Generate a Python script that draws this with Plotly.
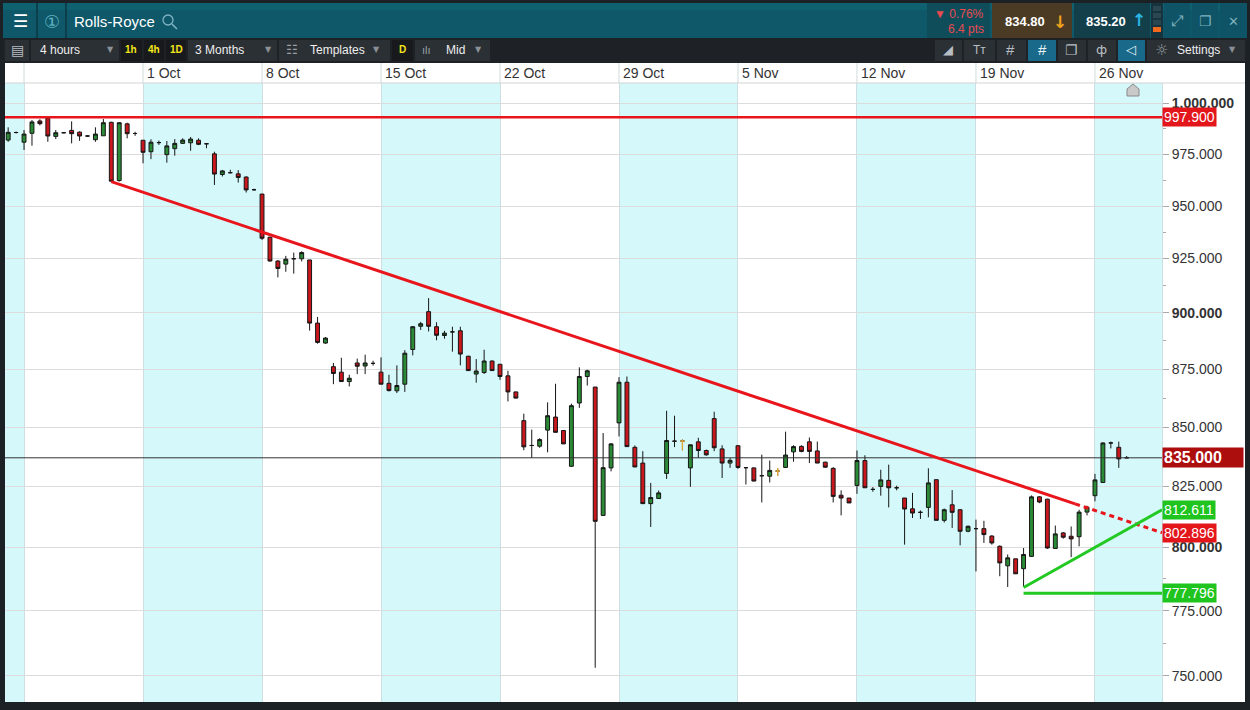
import math
import plotly.graph_objects as go

# ---- data: 4 hour candles, one slot per candle (15 slots per trading week) ----
FIRST_SLOT = -2
OPEN = [986.1, 990.0, 985.0, 989.6, 996.0, 997.4, 988.0, 989.9, 991.1, 990.2,
        988.2, 986.3, 988.3, 995.3, 965.4, 994.5, 989.5, 986.0, 980.1, 984.8,
        978.6, 981.7, 984.4, 984.7, 986.0, 984.2, 979.0, 968.5, 969.4, 968.8,
        967.2, 960.8, 958.6, 937.2, 925.6, 924.1, 926.7, 926.7, 926.1, 896.0,
        886.7, 875.8, 873.3, 869.0, 877.5, 876.1, 877.3, 873.3, 868.2, 864.8,
        867.8, 883.7, 894.5, 901.4, 894.3, 890.2, 891.9, 892.4, 880.6, 872.4,
        873.1, 878.4, 876.9, 871.6, 864.3, 851.4, 840.4, 840.1, 847.2, 853.0,
        847.0, 831.3, 859.3, 871.3, 866.5, 810.2, 830.6, 850.4, 868.7, 839.6,
        832.7, 815.2, 817.4, 828.2, 842.3, 842.3, 830.6, 842.0, 838.2, 852.3,
        838.9, 832.7, 840.3, 830.7, 830.6, 827.2, 827.0, 829.2, 830.8, 837.6,
        840.0, 842.0, 838.0, 833.1, 830.4, 818.8, 817.6, 823.0, 833.8, 821.3,
        822.6, 825.2, 822.0, 817.6, 813.0, 811.5, 813.6, 825.5, 808.1, 814.7,
        812.6, 803.5, 804.6, 804.6, 801.5, 797.2, 789.1, 792.0, 787.9, 793.0,
        818.1, 817.1, 796.3, 802.8, 801.4, 801.2, 811.6, 818.6, 824.3, 841.5,
        839.6, 835.0]
HIGH = [992.7, 990.5, 991.3, 996.5, 996.9, 997.9, 991.3, 990.2, 995.8, 990.6,
        988.6, 992.7, 997.0, 995.6, 995.3, 995.1, 990.4, 986.1, 986.5, 985.8,
        985.6, 986.6, 987.0, 987.7, 987.0, 984.3, 980.1, 970.8, 970.9, 970.7,
        967.5, 961.3, 958.7, 937.5, 926.0, 928.1, 929.7, 930.3, 926.1, 898.9,
        889.5, 877.5, 879.9, 872.1, 879.5, 881.3, 878.5, 880.1, 872.1, 876.4,
        883.4, 894.6, 896.6, 907.8, 896.4, 892.4, 894.3, 894.3, 880.8, 879.3,
        883.6, 878.6, 876.9, 873.9, 864.4, 854.5, 847.4, 843.6, 859.6, 868.0,
        847.0, 859.0, 875.5, 874.4, 866.5, 845.9, 841.5, 871.0, 871.3, 840.4,
        837.9, 824.1, 820.8, 855.8, 853.6, 843.0, 840.8, 843.8, 838.6, 855.4,
        840.5, 834.9, 840.4, 830.7, 830.8, 836.4, 833.8, 830.5, 846.5, 840.5,
        840.5, 843.9, 842.1, 833.3, 830.9, 820.9, 817.6, 838.2, 836.1, 822.3,
        829.8, 832.0, 822.9, 817.6, 819.8, 812.3, 830.4, 825.5, 813.1, 821.0,
        812.9, 805.9, 808.4, 807.9, 801.8, 797.6, 793.8, 792.0, 796.5, 818.7,
        818.4, 817.3, 805.9, 803.2, 805.5, 812.6, 814.3, 828.0, 841.8, 842.1,
        842.1, 835.8]
LOW = [985.2, 989.5, 981.0, 983.2, 993.7, 985.2, 986.6, 989.6, 984.4, 985.7,
       987.8, 985.2, 988.3, 964.9, 964.9, 987.0, 988.3, 974.2, 976.3, 983.6,
       974.5, 978.1, 984.1, 980.6, 983.5, 981.9, 963.2, 967.5, 969.1, 964.4,
       959.4, 960.3, 935.9, 925.4, 917.7, 920.4, 919.5, 925.4, 892.5, 886.4,
       886.3, 867.8, 869.0, 866.8, 872.4, 872.4, 876.3, 867.8, 864.5, 863.8,
       864.3, 881.0, 892.8, 892.1, 888.0, 888.7, 882.7, 876.4, 873.9, 868.5,
       872.5, 874.0, 869.8, 860.0, 861.4, 838.3, 835.0, 839.4, 837.4, 846.2,
       841.1, 831.0, 857.1, 867.2, 748.1, 810.2, 829.1, 844.4, 839.9, 831.0,
       815.2, 805.3, 817.2, 825.8, 839.7, 838.3, 822.4, 835.0, 835.9, 837.9,
       826.2, 830.6, 830.2, 823.4, 824.8, 815.7, 824.3, 827.2, 830.8, 833.3,
       837.4, 832.7, 832.7, 830.6, 815.7, 810.2, 815.5, 819.4, 822.0, 820.3,
       818.6, 813.6, 820.9, 797.9, 809.1, 808.7, 809.4, 808.1, 807.2, 804.9,
       797.6, 803.1, 786.8, 798.6, 797.9, 784.8, 780.4, 785.8, 780.6, 792.8,
       815.4, 796.1, 796.3, 800.4, 792.7, 797.2, 810.2, 816.2, 824.3, 839.1,
       830.6, 835.0]
CLOSE = [990.1, 990.0, 989.2, 995.5, 994.6, 988.2, 989.9, 989.9, 989.4, 988.2,
         988.2, 989.2, 995.1, 965.1, 995.1, 989.4, 989.5, 979.8, 985.0, 984.8,
         983.1, 984.4, 986.1, 986.6, 983.9, 984.2, 968.7, 970.3, 969.4, 967.0,
         960.7, 960.8, 936.7, 925.6, 922.0, 926.5, 926.7, 929.7, 896.0, 887.0,
         889.0, 872.7, 869.0, 870.5, 876.0, 877.5, 877.3, 867.8, 864.9, 867.2,
         882.0, 894.3, 895.7, 894.5, 890.3, 891.3, 891.9, 881.6, 874.0, 873.8,
         878.4, 874.0, 871.3, 864.3, 861.5, 839.8, 840.4, 843.0, 853.6, 846.2,
         841.1, 858.1, 871.3, 873.9, 807.7, 830.7, 841.1, 868.7, 839.9, 831.0,
         815.2, 817.8, 819.8, 842.6, 842.3, 842.3, 840.7, 838.2, 836.3, 839.4,
         832.7, 833.9, 830.8, 830.7, 824.9, 827.2, 829.5, 829.2, 836.2, 839.9,
         837.8, 837.8, 832.7, 830.9, 818.3, 817.6, 815.5, 833.8, 822.0, 821.3,
         825.4, 822.0, 822.0, 812.9, 811.2, 811.5, 824.1, 808.1, 812.6, 811.5,
         803.5, 805.6, 804.6, 802.1, 798.6, 790.3, 792.4, 785.8, 793.8, 818.1,
         815.9, 796.5, 802.4, 801.0, 800.3, 811.6, 813.7, 825.4, 841.5, 841.5,
         834.5, 835.0]
FLAT_ORANGE = [83, 95]  # unchanged candles drawn as orange crosses

WEEK_SLOTS = [0, 15, 30, 45, 60, 75, 90, 105, 120, 135]
DATE_LABELS = ["1 Oct", "8 Oct", "15 Oct", "22 Oct", "29 Oct",
               "5 Nov", "12 Nov", "19 Nov", "26 Nov"]

# drawn lines
RESISTANCE = 997.9
LAST_PRICE = 835.0
SUPPORT = 777.796
SUPPORT_START = 126
TREND_DOWN_SLOTS = [11, 132.5, 143.45]
TREND_DOWN_PRICES = [964.9, 815.1, 802.896]
TREND_UP_SLOTS = [126, 143.45]
TREND_UP_PRICES = [780.2, 812.611]

# price axis grid (label text as shown on the platform)
TICK_VALUES = [1005.4, 978.9, 952.6, 926.9, 900.9, 874.7, 848.4, 822.6, 796.9, 770.7, 744.9]
TICK_TEXT = ["<b>1.000.000</b>", "975.000", "950.000", "925.000", "<b>900.000</b>",
             "875.000", "850.000", "825.000", "<b>800.000</b>", "775.000", "750.000"]

X_MIN, X_MAX = -2.4, 143.45
Y_MIN, Y_MAX = 734.8, 1016.0

GREEN = "#2a8a35"
RED = "#c8171d"
LINE_RED = "#e8161c"
LINE_GREEN = "#22c922"
FONT = "Liberation Sans, Arial, sans-serif"

# pixel -> paper helpers for the surrounding platform chrome
L, R, T, B = 5, 1162, 83, 702


def px(x):
    return (x - L) / (R - L)


def py(y):
    return (B - y) / (B - T)


shapes = []
annotations = []


def rect(x0, y0, x1, y1, color, layer="below"):
    shapes.append(dict(type="rect", xref="paper", yref="paper",
                       x0=px(x0), x1=px(x1), y0=py(y1), y1=py(y0),
                       fillcolor=color, line=dict(width=0), layer=layer))


def label(x, y, text, color="#e8e8e8", size=12, anchor="left", bold=False, family=FONT):
    if bold:
        text = "<b>" + text + "</b>"
    annotations.append(dict(xref="paper", yref="paper", x=px(x), y=py(y),
                            xanchor=anchor, yanchor="middle", text=text,
                            showarrow=False, font=dict(color=color, size=size, family=family)))


def price_tag(price, text, bg, size=14, width=None):
    a = dict(xref="paper", yref="y", x=1, y=math.log10(price), xanchor="left",
             yanchor="middle", text=text, showarrow=False, bgcolor=bg, borderpad=1,
             font=dict(color="white", size=size, family=FONT))
    if width:
        a.update(width=width, align="left")
    annotations.append(a)


slots = [FIRST_SLOT + i for i in range(len(OPEN))]

fig = go.Figure()

fig.add_trace(go.Candlestick(
    x=slots, open=OPEN, high=HIGH, low=LOW, close=CLOSE,
    increasing=dict(line=dict(color="#151515", width=1), fillcolor=GREEN),
    decreasing=dict(line=dict(color="#151515", width=1), fillcolor=RED),
    hoverinfo="skip", showlegend=False))

# orange crosses
cx, cy = [], []
for s in FLAT_ORANGE:
    i = s - FIRST_SLOT
    cx += [s - 0.3, s + 0.3, None, s, s, None]
    cy += [OPEN[i], OPEN[i], None, HIGH[i], LOW[i], None]
fig.add_trace(go.Scatter(x=cx, y=cy, mode="lines", line=dict(color="#e0a83a", width=1.3),
                         hoverinfo="skip", showlegend=False))

# current price line
fig.add_trace(go.Scatter(x=[X_MIN, X_MAX], y=[LAST_PRICE, LAST_PRICE], mode="lines",
                         line=dict(color="#333333", width=1), hoverinfo="skip", showlegend=False))
# resistance
fig.add_trace(go.Scatter(x=[X_MIN, X_MAX], y=[RESISTANCE, RESISTANCE], mode="lines",
                         line=dict(color=LINE_RED, width=2.5), hoverinfo="skip", showlegend=False))
# falling trend line: solid part then projection
fig.add_trace(go.Scatter(x=TREND_DOWN_SLOTS[:2], y=TREND_DOWN_PRICES[:2], mode="lines",
                         line=dict(color=LINE_RED, width=3), hoverinfo="skip", showlegend=False))
fig.add_trace(go.Scatter(x=TREND_DOWN_SLOTS[1:], y=TREND_DOWN_PRICES[1:], mode="lines",
                         line=dict(color=LINE_RED, width=3, dash="5px,4px"),
                         hoverinfo="skip", showlegend=False))
# rising support line and horizontal support
fig.add_trace(go.Scatter(x=TREND_UP_SLOTS, y=TREND_UP_PRICES, mode="lines",
                         line=dict(color=LINE_GREEN, width=3), hoverinfo="skip", showlegend=False))
fig.add_trace(go.Scatter(x=[SUPPORT_START, X_MAX], y=[SUPPORT, SUPPORT], mode="lines",
                         line=dict(color=LINE_GREEN, width=3), hoverinfo="skip", showlegend=False))

# alternating week shading
bands = [(X_MIN, WEEK_SLOTS[0])]
for k in range(1, len(WEEK_SLOTS), 2):
    end = WEEK_SLOTS[k + 1] if k + 1 < len(WEEK_SLOTS) else X_MAX
    bands.append((WEEK_SLOTS[k], end))
for a, b in bands:
    shapes.append(dict(type="rect", xref="x", yref="paper", x0=a, x1=b, y0=0, y1=1,
                       fillcolor="#d5f8fa", line=dict(width=0), layer="below"))

# ---- platform chrome ----
rect(3, 3, 1247, 38, "#0e5869")
rect(3, 3, 1247, 10, "#10616f")
rect(36, 3, 38, 38, "#0a3f4b")
rect(65, 3, 67, 38, "#0a3f4b")
label(20, 21, "☰", "#ffffff", 17, "center")
label(52, 21, "①", "#5fb0c0", 18, "center", family="DejaVu Sans")
label(72, 21, "Rolls-Royce", "#ffffff", 15)
shapes.append(dict(type="circle", xref="paper", yref="paper", x0=px(163), x1=px(173),
                   y0=py(25), y1=py(15), line=dict(color="#7fb4c2", width=1.3)))
shapes.append(dict(type="line", xref="paper", yref="paper", x0=px(172), x1=px(177),
                   y0=py(24), y1=py(29), line=dict(color="#7fb4c2", width=1.5)))

rect(927, 3, 990, 38, "#0f4d5b")
label(986, 14, "▼ 0.76%", "#e84a4f", 12, "right")
label(986, 29, "6.4 pts", "#e84a4f", 12, "right")
rect(992, 3, 1072, 38, "#4c3b24")
label(1025, 21, "834.80", "#ffffff", 13, "center", bold=True)
label(1060, 22, "↓", "#f2a31d", 17, "center", bold=True, family="DejaVu Sans")
rect(1074, 3, 1150, 38, "#133f4b")
label(1106, 21, "835.20", "#ffffff", 13, "center", bold=True)
label(1139, 20, "↑", "#2cb6e4", 17, "center", bold=True, family="DejaVu Sans")
rect(1151, 3, 1163, 38, "#16343d")
for k in range(4):
    rect(1153, 6 + 7 * k, 1161, 11 + 7 * k, "#f36a1f" if k == 3 else "#2c4651")
rect(1164, 3, 1190, 38, "#0e5466")
rect(1192, 3, 1218, 38, "#0e5466")
rect(1220, 3, 1247, 38, "#0e5466")
label(1177, 21, "⤢", "#7fb0bd", 15, "center", family="DejaVu Sans")
label(1205, 21, "❐", "#7fb0bd", 14, "center", family="DejaVu Sans")
label(1233, 21, "✕", "#7fb0bd", 13, "center", family="DejaVu Sans")

# toolbar
rect(3, 39, 1247, 62, "#1e2226")
for a, b in [(5, 29), (31, 119), (188, 277), (279, 390), (415, 490),
             (935, 962), (964, 995), (997, 1026), (1058, 1086), (1088, 1116), (1147, 1245)]:
    rect(a, 40, b, 61, "#2b3035")
for a, b in [(121, 142), (144, 164), (166, 186), (392, 413)]:
    rect(a, 40, b, 61, "#17191c")
for a, b in [(1028, 1056), (1118, 1145)]:
    rect(a, 40, b, 61, "#19698a")
label(17, 50, "▤", "#b8bec4", 14, "center", family="DejaVu Sans")
label(38, 50, "4 hours", "#eeeeee", 12)
label(110, 50, "▼", "#8a9096", 8, "center", family="DejaVu Sans")
label(131, 50, "1h", "#f3e61a", 10, "center", bold=True)
label(154, 50, "4h", "#f3e61a", 10, "center", bold=True)
label(176, 50, "1D", "#f3e61a", 10, "center", bold=True)
label(193, 50, "3 Months", "#eeeeee", 12)
label(268, 50, "▼", "#8a9096", 8, "center", family="DejaVu Sans")
label(292, 50, "☷", "#9aa0a6", 13, "center", family="DejaVu Sans")
label(308, 50, "Templates", "#eeeeee", 12)
label(376, 50, "▼", "#8a9096", 8, "center", family="DejaVu Sans")
label(402, 50, "D", "#f3e61a", 10, "center", bold=True)
label(426, 50, "ılı", "#9aa0a6", 11, "center")
label(444, 50, "Mid", "#eeeeee", 12)
label(478, 50, "▼", "#8a9096", 8, "center", family="DejaVu Sans")
label(948, 50, "◢", "#b8bec4", 13, "center", family="DejaVu Sans")
label(980, 50, "Tт", "#b8bec4", 12, "center")
label(1011, 50, "#", "#b8bec4", 15, "center")
label(1042, 50, "#", "#e8f4f8", 15, "center")
label(1071, 50, "❐", "#b8bec4", 14, "center", family="DejaVu Sans")
label(1101, 50, "ф", "#b8bec4", 13, "center", family="DejaVu Sans")
label(1131, 50, "◁", "#e8f4f8", 13, "center", family="DejaVu Sans")
label(1161, 50, "☼", "#9aa0a6", 15, "center", family="DejaVu Sans")
label(1175, 50, "Settings", "#eeeeee", 12)
label(1232, 50, "▼", "#8a9096", 8, "center", family="DejaVu Sans")

# date header and price axis panel
rect(5, 63, 1245, 83, "#ffffff")
rect(1162, 83, 1245, 702, "#ffffff")
shapes.append(dict(type="line", xref="paper", yref="paper", x0=px(5), x1=px(1245),
                   y0=py(83), y1=py(83), line=dict(color="#d3d3d3", width=1)))
for s in WEEK_SLOTS:
    shapes.append(dict(type="line", xref="x", yref="paper", x0=s, x1=s, y0=1, y1=py(63),
                       line=dict(color="#d0dadc", width=1)))
for s, txt in zip(WEEK_SLOTS[1:], DATE_LABELS):
    annotations.append(dict(xref="x", yref="paper", x=s, y=py(73), xanchor="left",
                            yanchor="middle", xshift=2, text=txt, showarrow=False,
                            font=dict(color="#333333", size=14, family=FONT)))

# small scroll marker at the top of the last week
hx = [1127, 1127, 1133, 1139, 1139]
hy = [96, 89, 84, 89, 96]
path = "M " + " L ".join(f"{px(a)},{py(b)}" for a, b in zip(hx, hy)) + " Z"
shapes.append(dict(type="path", xref="paper", yref="paper", path=path,
                   fillcolor="#c9c9c9", line=dict(color="#8a8a8a", width=1), layer="above"))

# price tags on the axis
price_tag(RESISTANCE, "997.900", "#e3161c", 14)
price_tag(LAST_PRICE, "<b>835.000</b>", "#ac0d0d", 16, width=78)
price_tag(TREND_UP_PRICES[-1], "812.611", "#1fc41f", 14)
price_tag(TREND_DOWN_PRICES[-1], "802.896", "#e3161c", 14)
price_tag(SUPPORT, "777.796", "#1fc41f", 14)

minor_vals = [math.sqrt(a * b) for a, b in zip(TICK_VALUES[:-1], TICK_VALUES[1:])]

fig.update_layout(
    width=1250, height=710,
    margin=dict(l=L, r=1250 - R, t=T, b=710 - B),
    paper_bgcolor="#1c2126", plot_bgcolor="#ffffff",
    font=dict(family=FONT, color="#333333"),
    showlegend=False,
    shapes=shapes, annotations=annotations,
    xaxis=dict(range=[X_MIN, X_MAX], tickmode="array", tickvals=WEEK_SLOTS,
               showticklabels=False, ticks="", showgrid=True, gridcolor="#cfdee1",
               zeroline=False, rangeslider=dict(visible=False), fixedrange=True),
    yaxis=dict(type="log", range=[math.log10(Y_MIN), math.log10(Y_MAX)], side="right",
               tickmode="array", tickvals=TICK_VALUES, ticktext=TICK_TEXT,
               tickfont=dict(size=14, color="#333333", family=FONT),
               ticks="outside", ticklen=6, tickcolor="#aaaaaa",
               minor=dict(tickvals=minor_vals, ticks="outside", ticklen=3, tickcolor="#aaaaaa"),
               showgrid=True, gridcolor="#dcdcdc", zeroline=False,
               showline=True, linecolor="#cfdee1", fixedrange=True),
)

fig.write_html("out.html", config={"displayModeBar": False},
               post_script="document.body.style.margin='0';document.body.style.overflow='hidden';")
